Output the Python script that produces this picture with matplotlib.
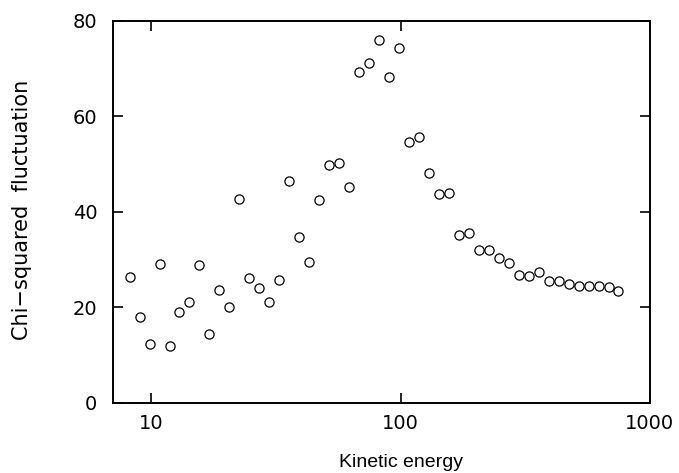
import matplotlib
matplotlib.use("Agg")
import matplotlib.pyplot as plt
from matplotlib.ticker import NullLocator

plt.rcParams['font.family'] = ['Liberation Sans', 'DejaVu Sans']

# kinetic energy (log-spaced) and chi-squared fluctuation
energy = [8.18, 8.97, 9.84, 10.79, 11.83, 12.97, 14.22, 15.60, 17.10, 18.75,
          20.56, 22.55, 24.73, 27.12, 29.73, 32.61, 35.75, 39.20, 42.99, 47.15,
          51.70, 56.68, 62.16, 68.16, 74.73, 81.96, 89.87, 98.54, 108.1, 118.5,
          129.9, 142.5, 156.2, 171.3, 187.8, 206.0, 225.9, 247.7, 271.6, 297.9,
          326.6, 358.1, 392.8, 430.7, 472.2, 517.9, 567.9, 622.6, 682.8, 748.6]
chi = [26.4, 17.9, 12.4, 29.0, 11.9, 19.0, 21.0, 28.9, 14.3, 23.7,
       20.0, 42.7, 26.2, 24.1, 21.0, 25.7, 46.5, 34.8, 29.4, 42.4,
       49.8, 50.3, 45.2, 69.2, 71.2, 76.0, 68.3, 74.3, 54.5, 55.6,
       48.2, 43.7, 43.9, 35.1, 35.5, 32.0, 32.0, 30.4, 29.3, 26.7,
       26.5, 27.3, 25.5, 25.5, 24.8, 24.4, 24.5, 24.4, 24.2, 23.3]

x_ticks = [10, 100, 1000]
x_tick_labels = ['10', '100', '1000']
y_ticks = [0, 20, 40, 60, 80]

fig = plt.figure(figsize=(6.79, 4.73), dpi=100)
ax = fig.add_axes([0.166, 0.1486, 0.791, 0.8076])

ax.plot(energy, chi, ls='none', marker='o', ms=6.6, mfc='none', mec='k', mew=0.9)

ax.set_xscale('log')
ax.set_xlim(7, 1000)
ax.set_ylim(0, 80)
ax.set_xticks(x_ticks)
ax.set_xticklabels(x_tick_labels)
ax.xaxis.set_minor_locator(NullLocator())
ax.set_yticks(y_ticks)

for s in ax.spines.values():
    s.set_linewidth(1.4)
ax.tick_params(which='major', direction='in', length=7.5, width=1.2,
               top=True, right=True, labelsize=14)
for lab in ax.get_xticklabels() + ax.get_yticklabels():
    lab.set_family('DejaVu Sans')
ax.tick_params(axis='y', pad=11)
ax.tick_params(axis='x', pad=8)

ax.set_xlabel('Kinetic energy', fontsize=14)
ax.xaxis.set_label_coords(0.537, -0.134)
ax.set_ylabel('Chi\u2212squared  fluctuation', fontsize=15, family='DejaVu Sans')
ax.yaxis.set_label_coords(-0.150, 0.504)

fig.savefig('out.png', dpi=100)
